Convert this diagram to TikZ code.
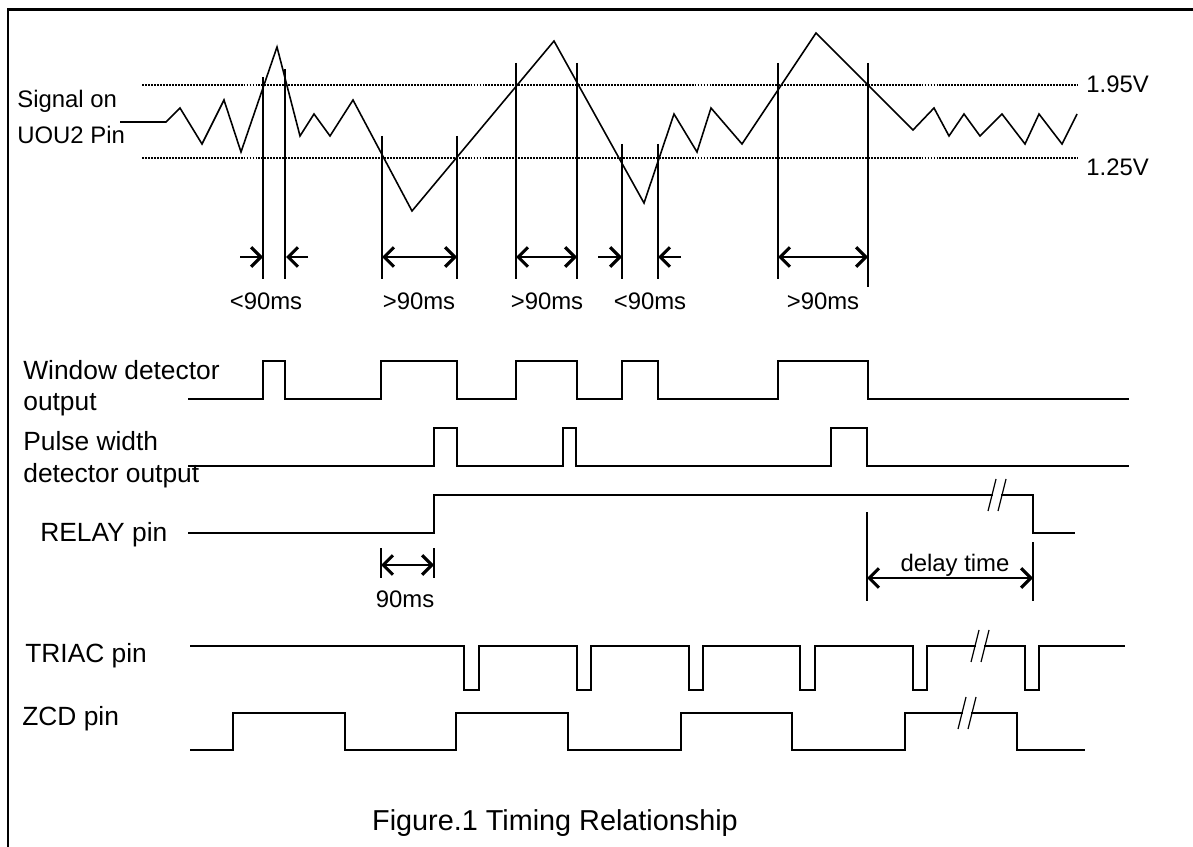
\documentclass[tikz,border=0pt]{standalone}
\usepackage{fontspec}
\setmainfont{Liberation Sans}
\usepackage{tikz}
\usetikzlibrary{arrows.meta}

\tikzset{
  sig/.style={line width=0.9pt,line join=miter},
  lvl/.style={line width=0.6pt,dash pattern=on 1.1pt off 0.6pt},
  tip/.style={},
  dim/.style={line width=0.9pt,-{Straight Barb[length=5.5pt,width=11pt,line width=1.8pt]}},
  dimboth/.style={line width=0.9pt,{Straight Barb[length=5.5pt,width=11pt,line width=1.8pt]}-{Straight Barb[length=5.5pt,width=11pt,line width=1.8pt]}},
  big/.style={font=\fontsize{15}{18}\selectfont,inner sep=0pt},
  sml/.style={font=\fontsize{13.6}{16}\selectfont,inner sep=0pt}
}
% break mark on a long line
\newcommand{\brk}[2]{%
  \fill[white] (#1-4,#2-3) rectangle (#1+4,#2+3);
  \draw[line width=0.7pt] (#1-9,#2+16) -- (#1-1,#2-16);
  \draw[line width=0.7pt] (#1+1,#2+16) -- (#1+9,#2-16);}

\begin{document}
\begin{tikzpicture}[x=0.02cm,y=-0.02cm]
\useasboundingbox (0,0) rectangle (1193,847);
\draw[line width=1.7pt] (8,847) -- (8,10) -- (1193,10);

% input signal and thresholds
\draw[lvl] (142,85) -- (1077,85);
\draw[lvl] (142,158) -- (1077,158);
\node[sml,anchor=base west] (v195) at (1086,93) {1.95V};
\node[sml,anchor=base west] (v125) at (1086,176) {1.25V};
\node[sml,anchor=base west] (sig1) at (17,108) {Signal on};
\node[sml,anchor=base west] (sig2) at (17,144) {UOU2 Pin};
\draw[sig] (120,122) -- (166,122) -- (180,108) -- (202,144) -- (224,100) -- (241,152)
  -- (277,47) -- (300,136) -- (314,114) -- (330,136) -- (353,100) -- (412,211)
  -- (554,41) -- (644,203) -- (674,114) -- (697,152) -- (711,108) -- (742,144)
  -- (816,33) -- (913,130) -- (934,108) -- (949,136) -- (964,114) -- (980,136)
  -- (1002,114) -- (1025,144) -- (1039,114) -- (1062,144) -- (1077,114);

% crossing marks and widths
\foreach \x/\y in {263/77,285/69,382/136,457/136,516/63,577/63,622/144,658/144,778/63}
  \draw[sig] (\x,\y) -- (\x,279);
\draw[sig] (868,63) -- (868,287);
\draw[dim] (240,257) -- (263,257);
\draw[dim] (308,257) -- (286,257);
\draw[dim] (598,257) -- (622,257);
\draw[dim] (681,257) -- (658,257);
\draw[dimboth] (382,257) -- (457,257);
\draw[dimboth] (516,257) -- (577,257);
\draw[dimboth] (778,257) -- (868,257);
\node[sml,anchor=base] (w1) at (266,310) {<90ms};
\node[sml,anchor=base] (w2) at (419,310) {>90ms};
\node[sml,anchor=base] (w3) at (547,310) {>90ms};
\node[sml,anchor=base] (w4) at (650,310) {<90ms};
\node[sml,anchor=base] (w5) at (823,310) {>90ms};

% window detector
\node[big,anchor=base west] (win1) at (23,380) {Window detector};
\node[big,anchor=base west] (win2) at (23,411) {output};
\draw[sig] (188,399) foreach \a/\b in {263/285,381/457,516/577,622/658,778/868}
  { -- (\a,399) -- (\a,361) -- (\b,361) -- (\b,399) } -- (1129,399);

% pulse width detector
\node[big,anchor=base west] (pw1) at (23,451) {Pulse width};
\node[big,anchor=base west] (pw2) at (23,482) {detector output};
\draw[sig] (188,466) foreach \a/\b in {434/457,563/576,831/867}
  { -- (\a,466) -- (\a,428) -- (\b,428) -- (\b,466) } -- (1129,466);

% relay
\node[big,anchor=base west] (rly) at (40,541) {RELAY pin};
\draw[sig] (188,533) -- (434,533) -- (434,495) -- (1033,495) -- (1033,533) -- (1075,533);
\brk{997}{495}
\draw[sig] (381,548) -- (381,578);
\draw[sig] (434,548) -- (434,578);
\draw[dimboth] (381,565) -- (434,565);
\node[sml,anchor=base] (t90) at (405,607) {90ms};
\draw[sig] (867,512) -- (867,601);
\draw[sig] (1033,542) -- (1033,601);
\draw[dimboth] (867,578) -- (1033,578);
\node[sml,anchor=base] (dly) at (955,571) {delay time};

% triac
\node[big,anchor=base west] (tri) at (25,662) {TRIAC pin};
\draw[sig] (190,646) foreach \a/\b in {464/479,577/591,689/703,800/815,913/927,1025/1039}
  { -- (\a,646) -- (\a,690) -- (\b,690) -- (\b,646) } -- (1125,646);
\brk{980}{646}

% zero crossing
\node[big,anchor=base west] (zcd) at (22,725) {ZCD pin};
\draw[sig] (190,750) foreach \a/\b in {233/345,456/568,681/792,905/1017}
  { -- (\a,750) -- (\a,713) -- (\b,713) -- (\b,750) } -- (1085,750);
\brk{967}{713}

\node[anchor=base,inner sep=0pt,font=\fontsize{16.4}{19}\selectfont] (cap) at (555,830) {Figure.1 Timing Relationship};
\end{tikzpicture}
\end{document}
